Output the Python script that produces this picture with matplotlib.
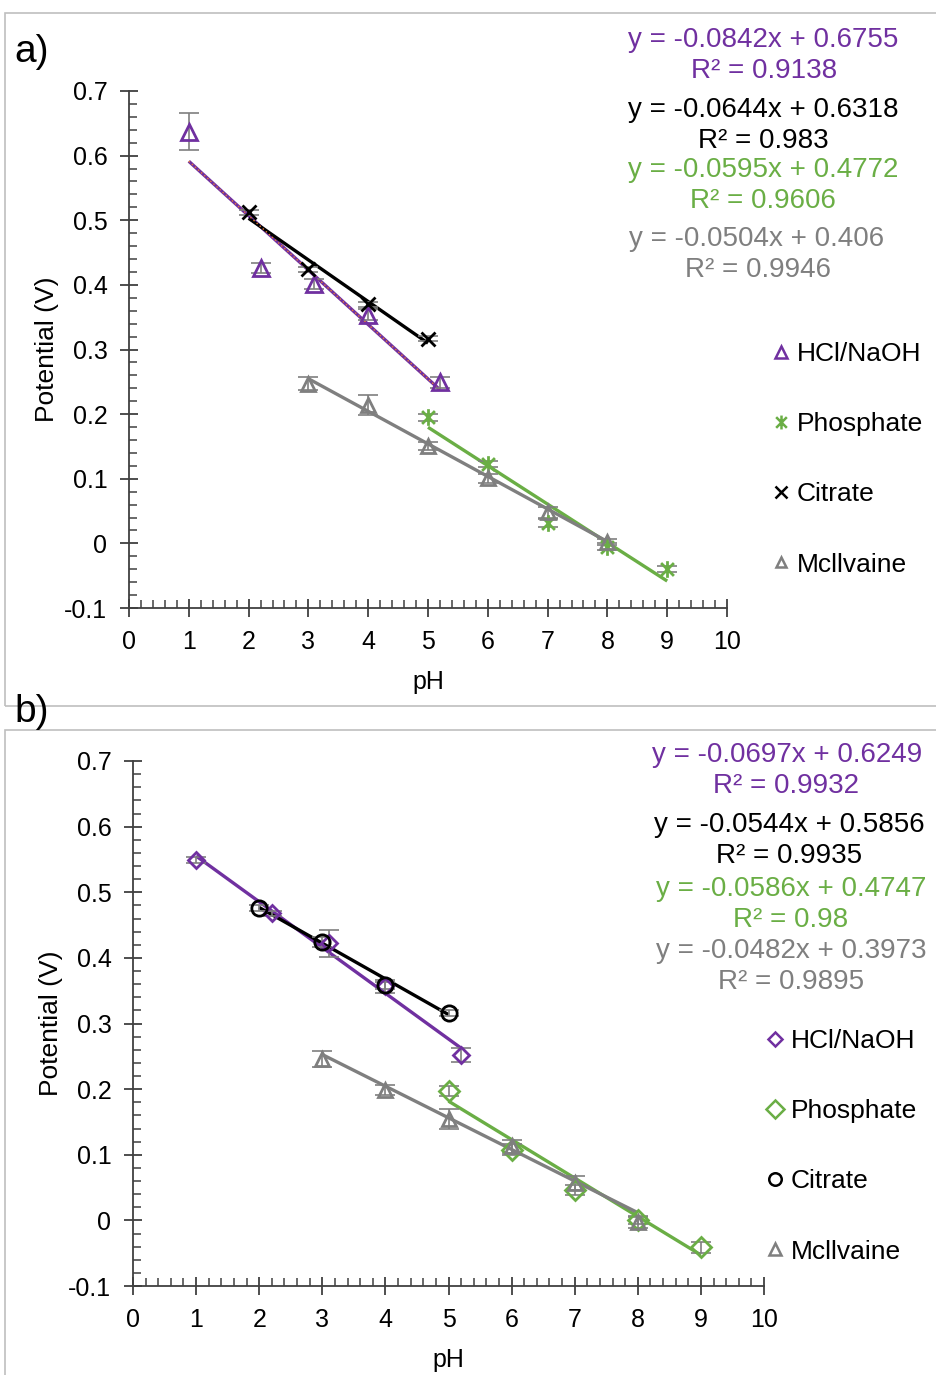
import numpy as np
import matplotlib
matplotlib.use("Agg")
import matplotlib.pyplot as plt
from matplotlib.path import Path
from matplotlib.lines import Line2D
from matplotlib.patches import Rectangle
from matplotlib.ticker import MultipleLocator

plt.rcParams['font.family'] = ['Liberation Sans', 'DejaVu Sans']

W, H = 937, 1375

# ---------------- data ----------------
legend_labels = ["HCl/NaOH", "Phosphate", "Citrate", "Mcllvaine"]

# panel a
a_hcl_x = [1, 2.2, 3.1, 4, 5.2]
a_hcl_y = [0.637, 0.426, 0.401, 0.354, 0.249]
a_hcl_e = [0.029, 0.008, 0.008, 0.008, 0.008]
a_pho_x = [5, 6, 7, 8, 9]
a_pho_y = [0.195, 0.123, 0.031, -0.005, -0.040]
a_pho_e = [0.005, 0.005, 0.006, 0.005, 0.005]
a_cit_x = [2, 3, 4, 5]
a_cit_y = [0.512, 0.424, 0.370, 0.317]
a_cit_e = [0.004, 0.004, 0.004, 0.004]
a_mci_x = [3, 4, 5, 6, 7, 8]
a_mci_y = [0.247, 0.214, 0.151, 0.101, 0.048, 0.002]
a_mci_e = [0.010, 0.016, 0.006, 0.007, 0.009, 0.004]
a_slope = [-0.0842, -0.0595, -0.0644, -0.0504]
a_icpt = [0.6755, 0.4772, 0.6318, 0.406]
a_r2 = ["0.9138", "0.9606", "0.983", "0.9946"]

# panel b
b_hcl_x = [1, 2.2, 3.1, 4, 5.2]
b_hcl_y = [0.549, 0.468, 0.422, 0.357, 0.252]
b_hcl_e = [0.004, 0.004, 0.020, 0.010, 0.010]
b_pho_x = [5, 6, 7, 8, 9]
b_pho_y = [0.197, 0.108, 0.046, 0.000, -0.041]
b_pho_e = [0.008, 0.008, 0.008, 0.006, 0.008]
b_cit_x = [2, 3, 4, 5]
b_cit_y = [0.476, 0.424, 0.358, 0.316]
b_cit_e = [0.004, 0.008, 0.005, 0.004]
b_mci_x = [3, 4, 5, 6, 7, 8]
b_mci_y = [0.246, 0.199, 0.154, 0.113, 0.057, -0.003]
b_mci_e = [0.012, 0.008, 0.015, 0.010, 0.010, 0.008]
b_slope = [-0.0697, -0.0586, -0.0544, -0.0482]
b_icpt = [0.6249, 0.4747, 0.5856, 0.3973]
b_r2 = ["0.9932", "0.98", "0.9935", "0.9895"]

x_ticks = list(range(0, 11))
y_ticks = [-0.1, 0, 0.1, 0.2, 0.3, 0.4, 0.5, 0.6, 0.7]
y_ticklabels = ["-0.1", "0", "0.1", "0.2", "0.3", "0.4", "0.5", "0.6", "0.7"]

# ---------------- styles ----------------
PURPLE = "#7030A0"
GREEN = "#6AAE45"
BLACK = "#000000"
GRAY = "#7F7F7F"
colors = [PURPLE, GREEN, BLACK, GRAY]

# Excel-like asterisk: X plus vertical bar
ast = Path([(-1, -1), (1, 1), (-1, 1), (1, -1), (0, -1.3), (0, 1.3)],
           [Path.MOVETO, Path.LINETO, Path.MOVETO, Path.LINETO, Path.MOVETO, Path.LINETO])

fig = plt.figure(figsize=(W / 100, H / 100), dpi=100)


def frac(x0, y0, x1, y1):
    return [x0 / W, 1 - y1 / H, (x1 - x0) / W, (y1 - y0) / H]


def px(x, y):
    return x / W, 1 - y / H


# panel frames
for (y0, y1) in [(13, 706), (730, 1380)]:
    fig.patches.append(Rectangle(px(5, y1), (W + 10 - 5) / W, (y1 - y0) / H,
                                 transform=fig.transFigure, fill=False,
                                 edgecolor="#BFBFBF", linewidth=1.2, zorder=0))


def setup(ax):
    ax.set_xlim(0, 10)
    ax.set_ylim(-0.1, 0.7)
    ax.spines["top"].set_visible(False)
    ax.spines["right"].set_visible(False)
    for s in ["left", "bottom"]:
        ax.spines[s].set_color("#404040")
        ax.spines[s].set_linewidth(1.3)
    ax.set_xticks(x_ticks)
    ax.set_yticks(y_ticks)
    ax.set_yticklabels(y_ticklabels)
    ax.xaxis.set_minor_locator(MultipleLocator(0.2))
    ax.yaxis.set_minor_locator(MultipleLocator(0.02))
    ax.tick_params(which="major", direction="inout", length=13, width=1.3,
                   color="#404040", labelsize=18)
    ax.tick_params(which="minor", direction="in", length=6, width=1.1,
                   color="#404040")
    ax.tick_params(axis="x", which="major", pad=9)
    ax.tick_params(axis="y", which="major", pad=9)
    ax.set_xlabel("pH", fontsize=18, labelpad=12)
    ax.set_ylabel("Potential (V)", fontsize=19, labelpad=4)
    ax.patch.set_alpha(0)


def draw(ax, xs, ys, es, slopes, icpts, markers, msizes, extra_orange=False):
    for i in range(4):
        x = np.array(xs[i], dtype=float)
        y = np.array(ys[i], dtype=float)
        xl = np.array([x.min(), x.max()])
        ax.plot(xl, slopes[i] * xl + icpts[i], color=colors[i], lw=2.4,
                solid_capstyle="butt", zorder=2)
        if extra_orange and i == 0:
            ax.plot(xl, slopes[i] * xl + icpts[i], color="#ED7D31", lw=1.0,
                    ls=(0, (1, 2)), zorder=2.1)
        ax.errorbar(x, y, yerr=es[i], fmt="none", ecolor=GRAY, elinewidth=1.2,
                    capsize=7, capthick=1.2, zorder=3)
        ax.plot(x, y, linestyle="none", marker=markers[i], ms=msizes[i],
                mfc="none", mec=colors[i], mew=2.0, zorder=4)


# ---------------- panel a ----------------
axa = fig.add_axes(frac(129, 91, 727, 608))
setup(axa)
markers_a = ["^", ast, "x", "^"]
msizes_a = [11, 12, 10, 10]
draw(axa,
     [a_hcl_x, a_pho_x, a_cit_x, a_mci_x],
     [a_hcl_y, a_pho_y, a_cit_y, a_mci_y],
     [a_hcl_e, a_pho_e, a_cit_e, a_mci_e],
     a_slope, a_icpt, markers_a, msizes_a, extra_orange=True)

# ---------------- panel b ----------------
axb = fig.add_axes(frac(133, 761, 764, 1286))
setup(axb)
markers_b = ["D", "D", "o", "^"]
msizes_b = [8, 10, 11, 10]
draw(axb,
     [b_hcl_x, b_pho_x, b_cit_x, b_mci_x],
     [b_hcl_y, b_pho_y, b_cit_y, b_mci_y],
     [b_hcl_e, b_pho_e, b_cit_e, b_mci_e],
     b_slope, b_icpt, markers_b, msizes_b)


def fmt(v):
    return ("%.4f" % v).rstrip("0").rstrip(".")


# equation texts: order on figure = HCl, Citrate, Phosphate, McIlvaine
order = [0, 2, 1, 3]
a_pos = [(763, 40, 764, 71), (763, 110, 763, 141), (763, 170, 763, 201), (757, 239, 758, 270)]
b_pos = [(787, 755, 786, 786), (789, 825, 789, 856), (791, 889, 791, 920), (791, 951, 791, 982)]
for slopes, icpts, r2s, pos in [(a_slope, a_icpt, a_r2, a_pos), (b_slope, b_icpt, b_r2, b_pos)]:
    for k, i in enumerate(order):
        x1, y1, x2, y2 = pos[k]
        fig.text(*px(x1, y1), "y = %sx + %s" % (fmt(slopes[i]), fmt(icpts[i])),
                 color=colors[i], fontsize=20, ha="center", va="center")
        fig.text(*px(x2, y2), "R² = %s" % r2s[i],
                 color=colors[i], fontsize=20, ha="center", va="center")


# legends
def legend(markers, msizes, anchor):
    handles = []
    for i in range(4):
        handles.append(Line2D([], [], linestyle="none", marker=markers[i],
                              ms=msizes[i], mfc="none", mec=colors[i], mew=1.8))
    fig.legend(handles, legend_labels, loc="upper left", bbox_to_anchor=anchor,
               bbox_transform=fig.transFigure, frameon=False, fontsize=19,
               handlelength=0.6, handletextpad=0.3, labelspacing=1.75,
               borderpad=0, borderaxespad=0)


legend(["^", ast, "x", "^"], [9, 10, 8, 7], px(773, 342))
legend(["D", "D", "o", "^"], [7, 9, 9, 9], px(767, 1029))

# panel letters
fig.text(*px(14, 52), "a)", fontsize=28, ha="left", va="center")
fig.text(*px(14, 712), "b)", fontsize=28, ha="left", va="center")

fig.savefig("out.png", dpi=100)
